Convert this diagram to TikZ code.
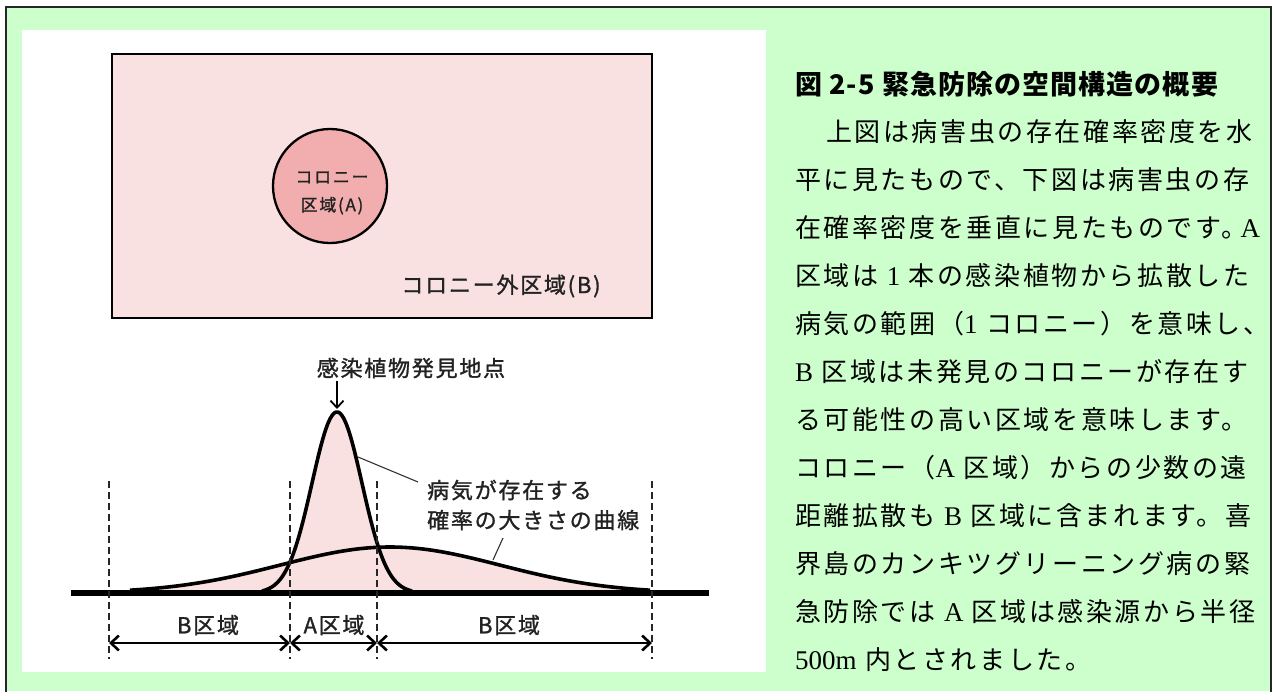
\documentclass[tikz,border=0pt]{standalone}
\usepackage{fontspec}
\setmainfont{Liberation Serif}
\newfontfamily\jp{Noto Sans CJK JP}[LetterSpace=10]
\newfontfamily\jplab{Noto Sans CJK JP}[LetterSpace=8,FakeBold=1.2]
\newfontfamily\jpsmall{Noto Sans CJK JP}[LetterSpace=10,FakeBold=1.2]
\newfontfamily\jptitle{Noto Sans CJK JP}[LetterSpace=4]
\usetikzlibrary{arrows.meta}
\definecolor{frameGreen}{HTML}{CCFFCC}
\definecolor{pinkFill}{HTML}{FAE1E1}
\definecolor{circFill}{HTML}{F2AEAE}
\definecolor{labText}{HTML}{222222}
\newcommand\latn[1]{{\rmfamily\fontsize{27}{30}\selectfont #1}}
\begin{document}
\begin{tikzpicture}[x=1pt,y=-1pt,
  lab/.style={inner sep=0pt, text=labText, font=\jplab\fontsize{22}{30}\selectfont},
  smalllab/.style={inner sep=0pt, text=labText, font=\jpsmall\fontsize{17}{28}\selectfont, align=center},
  body/.style={inner sep=0pt, anchor=west, text=black, font=\jp\fontsize{26}{30}\selectfont},
  titlestyle/.style={inner sep=0pt, anchor=west, text=black, font=\jptitle\bfseries\fontsize{27}{30}\selectfont},
  dashline/.style={line width=2.3pt, dash pattern=on 7pt off 4pt, black!85},
  dimarrow/.style={line width=2.6pt, {Straight Barb[length=8pt,width=15pt,line width=2.6pt]}-{Straight Barb[length=8pt,width=15pt,line width=2.6pt]}},
  leader/.style={line width=1.1pt, black!80},
  curve/.style={line width=3.6pt, black, line join=round}
]
\useasboundingbox (0,0) rectangle (1274,691);
% background frame
\fill[frameGreen] (6,7) rectangle (1271,691);
\draw[line width=2.2pt, black!85] (6,700) -- (6,7) -- (1271,7) -- (1271,700);
\fill[white] (22,30) rectangle (766,672);

% upper view
\node[draw=black, line width=2.8pt, fill=pinkFill, minimum width=540pt, minimum height=264pt, inner sep=0pt] (outer) at (382,186) {};
\node[draw=black, line width=2.3pt, fill=circFill, circle, minimum size=114pt, inner sep=0pt] (colony) at (330,186) {};
\node[smalllab] (colonyLab) at (332,193) {コロニー\\区域(A)};
\node[lab] (outerLab) at (501,286) {コロニー外区域(B)};

% lower view: curves
\fill[pinkFill] plot[domain=120:660, samples=120] (\x, {593-46*exp(-((\x-390)/110)^2/2)}) -- cycle;
\fill[pinkFill] plot[domain=255:420, samples=100] (\x, {593-181*exp(-((\x-337)/25)^2/2)}) -- cycle;
\draw[curve] plot[domain=130:650, samples=120] (\x, {593-46*exp(-((\x-390)/110)^2/2)});
\draw[curve] plot[domain=262:412, samples=100] (\x, {593-181*exp(-((\x-337)/25)^2/2)});

% baseline
\coordinate (bl0) at (71,593);
\coordinate (bl1) at (709,593);
\draw[line width=6pt, black] (bl0) -- (bl1);

% dashed boundaries
\foreach \n/\xx in {d1/109, d2/290, d3/377, d4/652} {
  \coordinate (\n top) at (\xx,481);
  \coordinate (\n bot) at (\xx,659);
  \coordinate (\n arr) at (\xx,643);
  \draw[dashline] (\n top) -- (\n bot);
}
\draw[dimarrow] (d1arr) -- (d2arr);
\draw[dimarrow] (d2arr) -- (d3arr);
\draw[dimarrow] (d3arr) -- (d4arr);
\node[lab] (bLeft) at (208,625) {B区域};
\node[lab] (aMid) at (334,625) {A区域};
\node[lab] (bRight) at (509,625) {B区域};

% peak label
\node[lab] (peakLab) at (411,368) {感染植物発見地点};
\coordinate (arrS) at (337,381);
\coordinate (peak) at (337,409);
\draw[line width=1.8pt, -{Straight Barb[length=7pt,width=13pt,line width=1.8pt]}] (arrS) -- (peak);

% curve label
\node[lab, anchor=west, align=left] (curveLab) at (427,505) {病気が存在する\\確率の大きさの曲線};
\coordinate (ld1a) at (358,457);
\coordinate (ld1b) at (418,482);
\coordinate (ld2a) at (503,538);
\coordinate (ld2b) at (493,560);
\draw[leader] (ld1a) -- (ld1b);
\draw[leader] (ld2a) -- (ld2b);

% right panel text
\node[titlestyle] (title) at (795,84) {図 2-5 緊急防除の空間構造の概要};
\node[body] (t1) at (826,132) {上図は病害虫の存在確率密度を水};
\node[body] (t2) at (795,180) {平に見たもので、下図は病害虫の存};
\node[body] (t3) at (795,228) {在確率密度を垂直に見たものです。\hspace{-7pt}\latn{A}};
\node[body] (t4) at (795,276) {区域は \latn{1} 本の感染植物から拡散した};
\node[body] (t5) at (795,324) {病気の範囲（\latn{1} コロニー）を意味し、};
\node[body] (t6) at (795,372) {\latn{B} 区域は未発見のコロニーが存在す};
\node[body] (t7) at (795,420) {る可能性の高い区域を意味します。};
\node[body] (t8) at (795,468) {コロニー（\latn{A} 区域）からの少数の遠};
\node[body] (t9) at (795,516) {距離拡散も \latn{B} 区域に含まれます。喜};
\node[body] (t10) at (795,564) {界島のカンキツグリーニング病の緊};
\node[body] (t11) at (795,612) {急防除では \latn{A} 区域は感染源から半径};
\node[body] (t12) at (795,660) {\latn{500m} 内とされました。};
\end{tikzpicture}
\end{document}
